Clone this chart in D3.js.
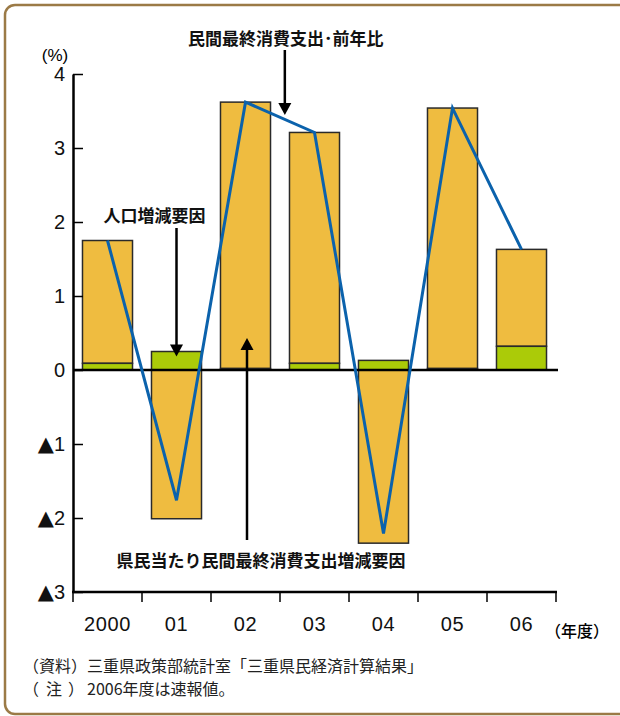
<!DOCTYPE html>
<html lang="ja">
<head>
<meta charset="utf-8">
<title>民間最終消費支出</title>
<script src="https://cdn.jsdelivr.net/npm/d3@7"></script>
<style>
  html, body { margin: 0; padding: 0; background: #fff; }
  svg { display: block; }
</style>
</head>
<body>
<script>
// data
const years = ["2000", "01", "02", "03", "04", "05", "06"];
const popFactor = [0.09, 0.25, 0.02, 0.09, 0.13, 0.02, 0.32];        // 人口増減要因
const perCapita = [1.66, -2.01, 3.60, 3.12, -2.34, 3.52, 1.31];      // 県民当たり...増減要因
const growth = [1.75, -1.76, 3.62, 3.21, -2.21, 3.54, 1.63];         // 前年比
const yTicks = [-3, -2, -1, 0, 1, 2, 3, 4];

const w = 620, h = 716;
const jp = "'Noto Sans CJK JP', 'Noto Sans', sans-serif";
const num = "'Liberation Sans', 'DejaVu Sans', sans-serif";

const svg = d3.select("body").append("svg")
  .attr("width", w)
  .attr("height", h);

// frame
svg.append("rect")
  .attr("x", 5).attr("y", 5)
  .attr("width", 660).attr("height", 709)
  .attr("rx", 10)
  .attr("fill", "none")
  .attr("stroke", "#9b7a46")
  .attr("stroke-width", 2.5);

const plotL = 73, plotR = 556, plotT = 74, plotB = 592;

const x = d3.scaleBand()
  .domain(years)
  .range([plotL, plotR])
  .paddingInner(0.275)
  .paddingOuter(0.1375);

const y = d3.scaleLinear()
  .domain([-3, 4])
  .range([plotB, plotT]);

const cx = d => x(d) + x.bandwidth() / 2;

// bars
const rows = years.map((yr, i) => ({ yr, pop: popFactor[i], pc: perCapita[i], g: growth[i] }));

const barStyle = sel => sel
  .attr("stroke", "#2a2a2a")
  .attr("stroke-width", 1.5);

// orange part
svg.append("g").selectAll("rect")
  .data(rows)
  .join("rect")
  .attr("x", d => x(d.yr))
  .attr("width", x.bandwidth())
  .attr("y", d => d.pc >= 0 ? y(d.pop + d.pc) : y(0))
  .attr("height", d => d.pc >= 0 ? y(d.pop) - y(d.pop + d.pc) : y(d.pc) - y(0))
  .attr("fill", "#efbc40")
  .call(barStyle);

// green part
svg.append("g").selectAll("rect")
  .data(rows)
  .join("rect")
  .attr("x", d => x(d.yr))
  .attr("width", x.bandwidth())
  .attr("y", d => y(d.pop))
  .attr("height", d => y(0) - y(d.pop))
  .attr("fill", "#abcb08")
  .call(barStyle);

// zero line
svg.append("line")
  .attr("x1", plotL).attr("x2", plotR + 2)
  .attr("y1", y(0)).attr("y2", y(0))
  .attr("stroke", "#000")
  .attr("stroke-width", 2.5);

// y axis
const yAxis = svg.append("g")
  .attr("transform", `translate(${plotL},0)`)
  .call(d3.axisLeft(y)
    .tickValues(yTicks)
    .tickSizeInner(-10)
    .tickSizeOuter(0)
    .tickPadding(8)
    .tickFormat(""));
yAxis.select(".domain").attr("stroke-width", 2.5);
yAxis.selectAll(".tick line").attr("stroke-width", 1.5);
// labels with a bigger ▲ for negatives
yAxis.selectAll(".tick text")
  .attr("font-family", num)
  .attr("font-size", 20)
  .attr("fill", "#111")
  .each(function(d) {
    const t = d3.select(this);
    if (d < 0) {
      t.append("tspan").attr("font-family", "'DejaVu Sans'").attr("font-size", 21).text("▲");
      t.append("tspan").text(-d);
    } else {
      t.text(d);
    }
  });

// x axis
const xAxis = svg.append("g")
  .attr("transform", `translate(0,${plotB})`)
  .call(d3.axisBottom(x).tickSize(0).tickPadding(25));
xAxis.select(".domain").remove();
xAxis.selectAll("text")
  .attr("font-family", num)
  .attr("font-size", 20)
  .attr("letter-spacing", 0.6)
  .attr("fill", "#111");

svg.append("line")
  .attr("x1", plotL - 1).attr("x2", plotR + 1)
  .attr("y1", plotB).attr("y2", plotB)
  .attr("stroke", "#000")
  .attr("stroke-width", 2.5);

const gap = x.step() - x.bandwidth();
const edges = years.map(d => x(d) - gap / 2).concat([plotR]);
svg.append("g").selectAll("line")
  .data(edges)
  .join("line")
  .attr("x1", d => d).attr("x2", d => d)
  .attr("y1", plotB).attr("y2", plotB + 10)
  .attr("stroke", "#000")
  .attr("stroke-width", 1.5);

// growth line
svg.append("path")
  .datum(rows)
  .attr("fill", "none")
  .attr("stroke", "#0b62ac")
  .attr("stroke-width", 3)
  .attr("stroke-linejoin", "miter")
  .attr("d", d3.line().x(d => cx(d.yr)).y(d => y(d.g)));

// labels
svg.append("text")
  .attr("x", 55).attr("y", 61)
  .attr("text-anchor", "middle")
  .attr("font-family", num)
  .attr("font-size", 17)
  .text("(%)");

svg.append("text")
  .attr("x", 545).attr("y", 637)
  .attr("font-family", jp)
  .attr("font-size", 16)
  .attr("font-weight", 500)
  .text("（年度）");

// arrows
function arrow(x0, y0, y1) {
  const dir = y1 > y0 ? 1 : -1;
  svg.append("line")
    .attr("x1", x0).attr("x2", x0)
    .attr("y1", y0).attr("y2", y1 - dir * 8)
    .attr("stroke", "#000")
    .attr("stroke-width", 2.5);
  svg.append("path")
    .attr("d", `M${x0 - 6.5},${y1 - dir * 12}L${x0 + 6.5},${y1 - dir * 12}L${x0},${y1}Z`)
    .attr("fill", "#000");
}

function note(txt, xc, yb) {
  svg.append("text")
    .attr("x", xc).attr("y", yb)
    .attr("text-anchor", "middle")
    .attr("font-family", jp)
    .attr("font-weight", "bold")
    .attr("font-size", 17)
    .attr("fill", "#111")
    .text(txt);
}

// 前年比 arrow points at the line between 02 and 03
const ax = cx("02") + 0.57 * x.step();
note("民間最終消費支出･前年比", ax + 1, 44.5);
arrow(ax, 50, 115);

note("人口増減要因", 154.5, 221.5);
arrow(cx("01"), 228, y(popFactor[1]) + 5);

note("県民当たり民間最終消費支出増減要因", 261, 566.5);
arrow(cx("02") + 1.5, 540, 338);

// footnotes
const fn = svg.append("g")
  .attr("font-family", jp)
  .attr("font-size", 16)
  .attr("fill", "#222");
fn.append("text").attr("x", 23).attr("y", 672)
  .text("（資料）三重県政策部統計室「三重県民経済計算結果」");
const n2 = fn.append("text").attr("y", 695);
n2.append("tspan").attr("x", 23).text("（");
n2.append("tspan").attr("x", 46).text("注");
n2.append("tspan").attr("x", 68).text("）");
n2.append("tspan").attr("x", 87).text("2006年度は速報値。");
</script>
</body>
</html>
